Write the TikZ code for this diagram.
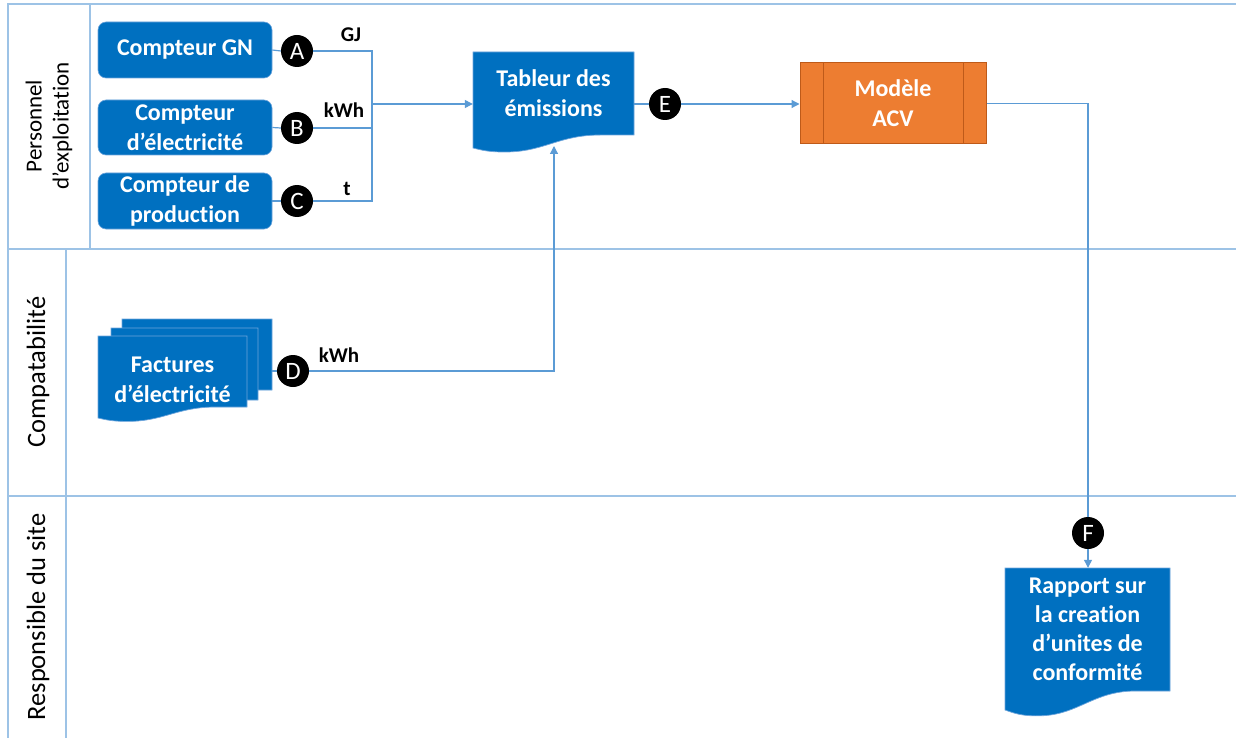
\documentclass[tikz,border=0pt]{standalone}
\usepackage{fontspec}
\setmainfont{Carlito}[RawFeature=-liga]
\usetikzlibrary{arrows.meta}
\definecolor{lanecol}{RGB}{157,195,230}
\definecolor{conncol}{RGB}{91,155,213}
\definecolor{boxblue}{RGB}{0,112,192}
\definecolor{docedge}{RGB}{110,165,220}
\definecolor{orangefill}{RGB}{237,125,49}
\definecolor{orangeedge}{RGB}{190,90,25}
\newcommand\boxfont{\fontsize{24}{30}\selectfont\bfseries}
\newcommand\badgefont{\fontsize{25}{25}\selectfont}
\newcommand\unitfont{\fontsize{21}{21}\selectfont\bfseries}
\newcommand\docshape[6]{%
  \pgfmathsetmacro\docW{#2-#1}\pgfmathsetmacro\docD{#5-#4}%
  \path[#6] (#1,#3) -- (#2,#3) -- (#2,#4) -- ({#1+0.79*\docW},#4)
    .. controls ({#1+0.54*\docW},#4) and ({#1+0.45*\docW},{#4+1.2*\docD}) .. ({#1+0.23*\docW},{#4+1.3*\docD})
    .. controls ({#1+0.1*\docW},{#4+1.35*\docD}) and ({#1+0.05*\docW},{#4+1.15*\docD}) .. (#1,#5) -- cycle;}
\tikzset{
  laneline/.style={draw=lanecol, line width=1.5pt},
  conn/.style={draw=conncol, line width=1.2pt},
  arr/.style={conn, -{Triangle[width=8pt,length=8pt]}},
  meter/.style={rounded corners=8pt, fill=boxblue, draw=docedge, line width=0.6pt,
    minimum width=174pt, align=center, text=white, font=\boxfont, inner sep=0pt},
  docfill/.style={fill=boxblue, draw=docedge, line width=0.7pt},
  badge/.style={circle, fill=black, text=white, font=\badgefont, minimum size=32pt, inner sep=0pt},
  unitlabel/.style={font=\unitfont, text=black, inner sep=0pt},
  txt/.style={text=white, font=\boxfont, align=center, inner sep=0pt},
  lanelabel/.style={rotate=90, align=center, inner sep=0pt},
}
\begin{document}
\begin{tikzpicture}[x=1pt,y=-1pt]
\useasboundingbox (0,0) rectangle (1236,738);
% swimlanes
\draw[laneline] (1236,4) -- (8,4) -- (8,738);
\draw[laneline] (8,249) -- (1236,249);
\draw[laneline] (8,496) -- (1236,496);
\draw[laneline] (90,4) -- (90,249);
\draw[laneline] (66,249) -- (66,738);
\node[lanelabel, font=\fontsize{23}{27}\selectfont] (l1) at (49,126) {Personnel\\d’exploitation};
\node[lanelabel, font=\fontsize{26.5}{30}\selectfont] (l2) at (38,372) {Compatabilité};
\node[lanelabel, font=\fontsize{26.5}{30}\selectfont] (l3) at (38,617) {Responsible du site};
% meters
\node[meter, minimum height=56pt] (gn) at (185,50) {Compteur GN};
\node[meter, minimum height=55pt] (el) at (185,127.5) {Compteur\\d’électricité};
\node[meter, minimum height=56pt] (pr) at (185,201) {Compteur de\\production};
\node[badge] (A) at (297,51) {A};
\node[badge] (B) at (297,128) {B};
\node[badge] (C) at (297,201) {C};
\coordinate (J) at (372,104);
\draw[conn] (gn.east) -- (A.west);
\draw[conn] (el.east) -- (B.west);
\draw[conn] (pr.east) -- (C.west);
\draw[conn] (A.east) -| (J);
\draw[conn] (B.east) -| (J);
\draw[conn] (C.east) -| (J);
\node[unitlabel] (uA) at (351,35) {GJ};
\node[unitlabel] (uB) at (344,110) {kWh};
\node[unitlabel] (uC) at (347,189) {t};
% Tableur
\docshape{473}{634}{52}{135}{148}{docfill}
\node[txt, minimum width=161pt, minimum height=83pt] (tab) at (553.5,93.5) {Tableur des\\émissions};
\coordinate (tabbot) at (554,146);
\draw[arr] (J) -- (J -| tab.west);
\node[badge] (E) at (665,104) {E};
\draw[conn] (E -| tab.east) -- (E.west);
% Modele ACV
\node[fill=orangefill, draw=orangeedge, line width=1pt, minimum width=186pt, minimum height=81pt,
  txt] (acv) at (893,103.5) {Modèle\\ACV};
\draw[orangeedge, line width=1pt] ([xshift=24pt]acv.north west) -- ([xshift=24pt]acv.south west);
\draw[orangeedge, line width=1pt] ([xshift=-23pt]acv.north east) -- ([xshift=-23pt]acv.south east);
\draw[arr] (E.east) -- (E -| acv.west);
% Factures
\docshape{122}{272}{319}{390}{401}{docfill}
\docshape{111}{258}{328}{400}{411}{docfill}
\docshape{98}{247}{336}{407}{418}{docfill}
\node[txt, minimum width=149pt] (fact) at (172.5,380) {Factures\\d’électricité};
\node[minimum width=174pt, minimum height=99pt, inner sep=0pt] (fstack) at (185,371) {};
\node[badge] (D) at (293,371) {D};
\node[unitlabel] (uD) at (339,355) {kWh};
\draw[conn] (fstack.east) -- (D.west);
\draw[arr] (D.east) -| (tabbot);
% Rapport
\docshape{1005}{1170}{568}{691}{710}{docfill}
\node[txt, font=\fontsize{24}{29}\selectfont\bfseries, minimum width=165pt, minimum height=123pt] (rap) at (1087.5,629.5) {Rapport sur\\la creation\\d’unites de\\conformité};
\node[badge] (F) at (1088,533) {F};
\draw[conn] (acv.east) -| (F.north);
\draw[arr] (F.south) -- (F.south |- rap.north);
\end{tikzpicture}
\end{document}
